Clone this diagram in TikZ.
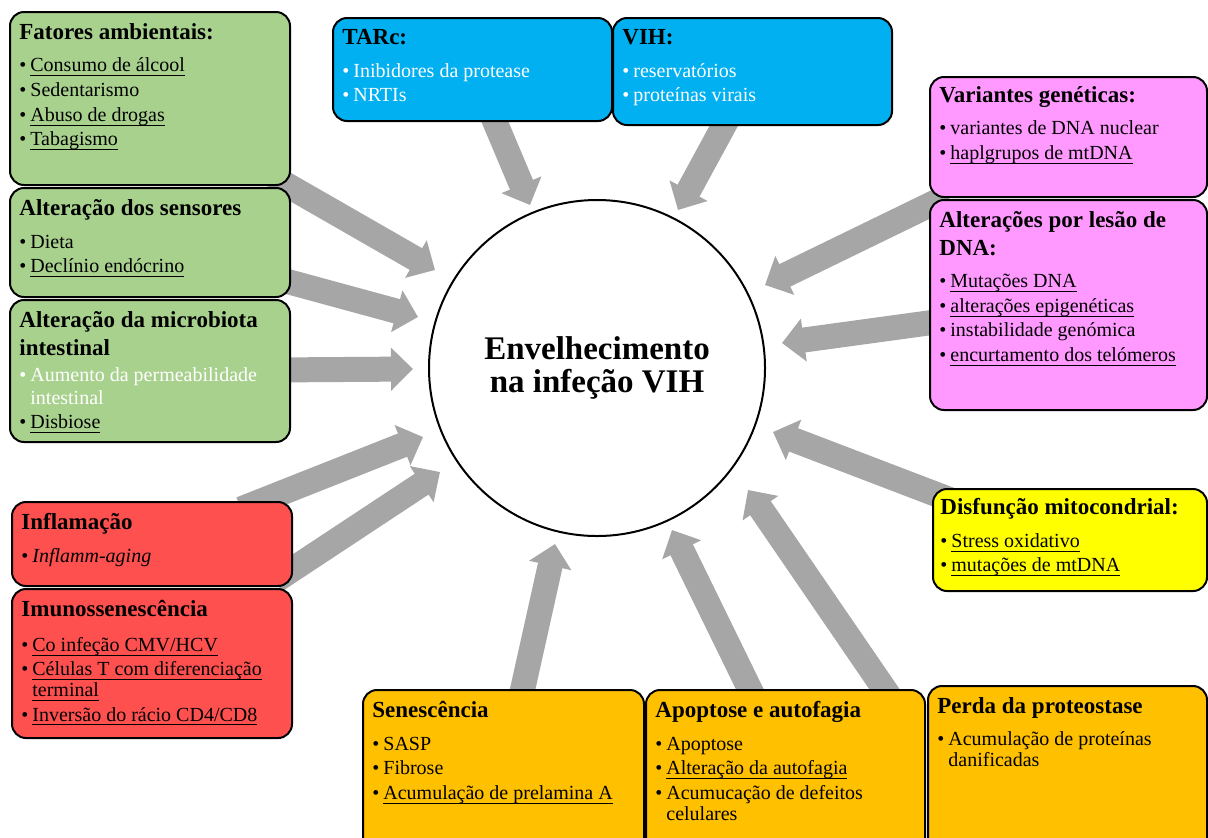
\documentclass[tikz,border=0pt]{standalone}
\usepackage{fontspec}
\setmainfont{Liberation Serif}
\usetikzlibrary{arrows.meta,fit}
\definecolor{verde}{HTML}{A9D18E}
\definecolor{vermelho}{HTML}{FF5050}
\definecolor{azul}{HTML}{00B0F0}
\definecolor{rosa}{HTML}{FF99FF}
\definecolor{amarelo}{HTML}{FFFF00}
\definecolor{laranja}{HTML}{FFC000}
\definecolor{cinza}{HTML}{A6A6A6}
\newcommand{\ttl}[1]{{\fontsize{11.5}{14}\selectfont\bfseries #1}}
\newcommand{\bul}{\textbullet\hspace{2pt}}
\newcommand{\hang}{\hspace*{5.5pt}}
\newcommand{\sbl}[1]{\setbox0\hbox{#1}\leavevmode\rlap{\rule[-2.2pt]{\wd0}{0.5pt}}\box0}
\tikzset{
	caixa/.style={draw, line width=1pt, rounded corners=7pt, inner sep=0pt},
	texto/.style={anchor=north west, inner sep=0pt, align=left, font=\fontsize{10}{12.3}\selectfont},
	seta/.style={draw=cinza, line width=12.5pt, -{Triangle[length=11pt,width=21pt]}}
}
\begin{document}
\begin{tikzpicture}[x=0.5pt,y=-0.5pt,line join=round]
	\clip (0,0) rectangle (1208,837);
	\path (273,177) coordinate (c1) (435,270) coordinate (p1)
	(271,277) coordinate (c2) (418,317) coordinate (p2)
	(270,370) coordinate (c3) (413,369) coordinate (p3)
	(241,509) coordinate (c4) (423,437) coordinate (p4)
	(275,581) coordinate (c5) (440,472) coordinate (p5)
	(518,710) coordinate (c6) (555,544) coordinate (p6)
	(759,708) coordinate (c7) (672,530) coordinate (p7)
	(896,706) coordinate (c8) (748,490) coordinate (p8)
	(964,505) coordinate (c9) (773,432) coordinate (p9)
	(950,320) coordinate (c10) (782,343) coordinate (p10)
	(948,196) coordinate (c11) (765,285) coordinate (p11)
	(487,103) coordinate (c12) (530,205) coordinate (p12)
	(734,107) coordinate (c13) (678,210) coordinate (p13);
	\foreach \i in {1,...,13} \draw[seta] (c\i)--(p\i);
	\node[circle, draw, line width=1pt, minimum size=168pt, align=center, font=\fontsize{16.5}{16.5}\selectfont\bfseries] (env) at (597,368) {Envelhecimento\\na infeção VIH};
	\node[caixa, fill=verde, fit={(10,12) (290,185)}] (fat) {};
	\node[texto] (fat-t) at ([shift={(10,12)}]fat.north west) {\ttl{Fatores ambientais:}\\[4pt]
		\bul\sbl{Consumo de álcool}\\
		\bul Sedentarismo\\
		\bul\sbl{Abuso de drogas}\\
		\bul\sbl{Tabagismo}};
	\node[caixa, fill=verde, fit={(10,188) (290,297)}] (sen) {};
	\node[texto] (sen-t) at ([shift={(10,12)}]sen.north west) {\ttl{Alteração dos sensores}\\[4pt]
		\bul Dieta\\
		\bul\sbl{Declínio endócrino}};
	\node[caixa, fill=verde, fit={(10,300) (290,442)}] (mic) {};
	\node[texto] (mic-t) at ([shift={(10,12)}]mic.north west) {\ttl{Alteração da microbiota}\\[1.5pt]\ttl{intestinal}\\[1pt]
		\textcolor{white}{\bul Aumento da permeabilidade}\\[-1pt]
		\hang\textcolor{white}{intestinal}\\
		\bul\sbl{Disbiose}};
	\node[caixa, fill=vermelho, fit={(12,502) (292,586)}] (inf) {};
	\node[texto] (inf-t) at ([shift={(10,12)}]inf.north west) {\ttl{Inflamação}\\[4pt]
		\bul\textit{Inflamm-aging}};
	\node[caixa, fill=vermelho, fit={(12,589) (292,738)}] (imu) {};
	\node[texto] (imu-t) at ([shift={(10,12)}]imu.north west) {\ttl{Imunossenescência}\\[5pt]
		\bul\sbl{Co infeção CMV/HCV}\\
		\bul\sbl{Células T com diferenciação}\\[-2pt]
		\hang\sbl{terminal}\\
		\bul\sbl{Inversão do rácio CD4/CD8}};
	\node[caixa, fill=azul, fit={(333,18) (612,121)}] (tar) {};
	\node[texto] (tar-t) at ([shift={(10,12)}]tar.north west) {\ttl{TARc:}\\[4pt]
		\textcolor{white}{\bul Inibidores da protease}\\
		\textcolor{white}{\bul NRTIs}};
	\node[caixa, fill=azul, fit={(613,18) (892,125)}] (vih) {};
	\node[texto] (vih-t) at ([shift={(10,12)}]vih.north west) {\ttl{VIH:}\\[4pt]
		\textcolor{white}{\bul reservatórios}\\
		\textcolor{white}{\bul proteínas virais}};
	\node[caixa, fill=rosa, fit={(930,77) (1207,197)}] (var) {};
	\node[texto] (var-t) at ([shift={(10,10)}]var.north west) {\ttl{Variantes genéticas:}\\[4pt]
		\bul variantes de DNA nuclear\\
		\bul\sbl{haplgrupos de mtDNA}};
	\node[caixa, fill=rosa, fit={(930,200) (1207,410)}] (les) {};
	\node[texto] (les-t) at ([shift={(10,12)}]les.north west) {\ttl{Alterações por lesão de}\\[1.5pt]\ttl{DNA:}\\[4pt]
		\bul\sbl{Mutações DNA}\\
		\bul\sbl{alterações epigenéticas}\\
		\bul instabilidade genómica\\
		\bul\sbl{encurtamento dos telómeros}};
	\node[caixa, fill=amarelo, fit={(933,489) (1207,591)}] (dis) {};
	\node[texto] (dis-t) at ([shift={(8,10)}]dis.north west) {\ttl{Disfunção mitocondrial:}\\[4pt]
		\bul\sbl{Stress oxidativo}\\
		\bul\sbl{mutações de mtDNA}};
	\node[caixa, fill=laranja, fit={(363,690) (644,860)}] (sne) {};
	\node[texto] (sne-t) at ([shift={(10,12)}]sne.north west) {\ttl{Senescência}\\[4pt]
		\bul SASP\\
		\bul Fibrose\\
		\bul\sbl{Acumulação de prelamina A}};
	\node[caixa, fill=laranja, fit={(646,690) (925,860)}] (apo) {};
	\node[texto] (apo-t) at ([shift={(10,12)}]apo.north west) {\ttl{Apoptose e autofagia}\\[4pt]
		\bul Apoptose\\
		\bul\sbl{Alteração da autofagia}\\
		\bul Acumucação de defeitos\\[-2pt]
		\hang celulares};
	\node[caixa, fill=laranja, fit={(928,686) (1207,860)}] (per) {};
	\node[texto] (per-t) at ([shift={(10,12)}]per.north west) {\ttl{Perda da proteostase}\\[4pt]
		\bul Acumulação de proteínas\\[-2pt]
		\hang danificadas};
\end{tikzpicture}
\end{document}
